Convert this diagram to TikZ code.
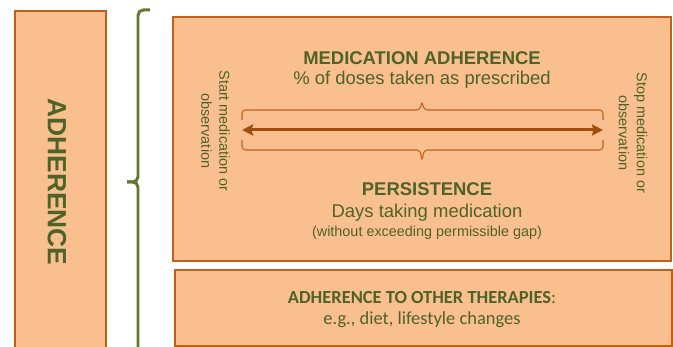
\documentclass[tikz,border=0pt]{standalone}
\usepackage{fontspec}
\setmainfont{Liberation Sans}
\newfontfamily\calibri{Carlito}
\usepackage{tikz}
\usetikzlibrary{arrows.meta}

\definecolor{peach}{HTML}{FABF8F}
\definecolor{rust}{HTML}{C0601A}
\definecolor{darkrust}{HTML}{A04D10}
\definecolor{olive}{HTML}{4F6228}
\definecolor{bracegreen}{HTML}{5F7A2E}

\tikzset{
	box/.style={draw=rust, fill=peach, line width=1.1pt, inner sep=0pt},
	lbl/.style={text=olive, align=center, inner sep=0pt},
	head/.style={lbl, font=\bfseries\fontsize{10.5}{12}\selectfont},
	sub/.style={lbl, font=\fontsize{10.5}{12}\selectfont},
	tiny/.style={lbl, font=\fontsize{8.2}{10.2}\selectfont},
	bigbrace/.style={draw=bracegreen, line width=1.7pt, rounded corners=3pt},
	tickbrace/.style={draw=rust, line width=0.6pt, rounded corners=2pt},
	span/.style={draw=darkrust, line width=1.7pt, {Stealth[length=0.22cm, width=0.22cm, inset=0.03cm]}-{Stealth[length=0.22cm, width=0.22cm, inset=0.03cm]}}
}

\begin{document}
\begin{tikzpicture}
	\useasboundingbox (0,0) rectangle (13.46,6.94);
	% the three boxes
	\node[box, minimum width=1.82cm, minimum height=7.2cm, anchor=north west] (adhbox) at (0.28,6.74) {};
	\node[box, minimum width=9.96cm, minimum height=4.88cm, anchor=north west] (medbox) at (3.44,6.62) {};
	\node[box, minimum width=9.94cm, minimum height=1.52cm, anchor=north west] (othbox) at (3.48,1.56) {};
	\node[lbl, rotate=-90, font=\bfseries\fontsize{15}{18}\selectfont] (adh) at (1.14,3.30) {ADHERENCE};
	% big curly brace, a long straight stem with a short hook and tick
	\draw[bigbrace] (3.00,6.74) -| (2.76,3.30) -- (2.54,3.30);
	\draw[bigbrace] (2.54,3.30) -- (2.76,3.30) -- (2.76,-0.30);
	% small braces around the time line
	\draw[tickbrace] (4.84,4.54) |- (8.40,4.74) -- (8.44,4.92) -- (8.48,4.74) -| (12.06,4.54);
	\draw[tickbrace] (4.84,4.14) |- (8.40,3.94) -- (8.44,3.72) -- (8.48,3.94) -| (12.06,4.14);
	\coordinate (tstart) at (4.84,4.34);
	\coordinate (tstop) at (12.06,4.34);
	\draw[span] (tstart) -- (tstop);
	% texts
	\node[head] (medtitle) at (8.44,5.78) {MEDICATION ADHERENCE};
	\node[sub] (medsub) at (8.44,5.34) {\% of doses taken as prescribed};
	\node[head] (pertitle) at (8.54,3.16) {PERSISTENCE};
	\node[sub] (persub) at (8.54,2.68) {Days taking medication};
	\node[tiny] (pernote) at (8.54,2.28) {(without exceeding permissible gap)};
	\node[tiny, rotate=-90] (start) at (4.31,4.32) {Start medication or\\observation};
	\node[tiny, rotate=-90] (stop) at (12.66,4.28) {Stop medication or\\observation};
	\node[lbl, font=\calibri\fontsize{10.5}{12}\selectfont] (othtitle) at (8.44,0.98) {\textbf{ADHERENCE TO OTHER THERAPIES}:};
	\node[lbl, font=\calibri\fontsize{10.5}{12}\selectfont] (othsub) at (8.44,0.54) {e.g., diet, lifestyle changes};
\end{tikzpicture}
\end{document}
